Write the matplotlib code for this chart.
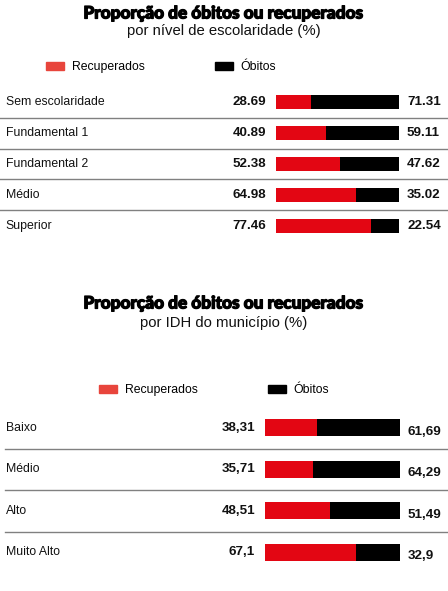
import matplotlib
matplotlib.use("Agg")
import matplotlib.pyplot as plt
import matplotlib.transforms as mtransforms
import matplotlib.patheffects as pe
from matplotlib.patches import Patch

plt.rcParams['font.family'] = ['Liberation Sans', 'DejaVu Sans']

W, H = 448, 591
RED = "#e30613"
RED_LEG = "#e8453c"

# data
esc_cats = ["Sem escolaridade", "Fundamental 1", "Fundamental 2", "Médio", "Superior"]
esc_rec = [28.69, 40.89, 52.38, 64.98, 77.46]
esc_obi = [71.31, 59.11, 47.62, 35.02, 22.54]

idh_cats = ["Baixo", "Médio", "Alto", "Muito Alto"]
idh_rec = [38.31, 35.71, 48.51, 67.1]
idh_obi = [61.69, 64.29, 51.49, 32.9]
idh_rec_lbl = ["38,31", "35,71", "48,51", "67,1"]
idh_obi_lbl = ["61,69", "64,29", "51,49", "32,9"]

fig = plt.figure(figsize=(W / 100, H / 100), dpi=100)


def px_axes(x0, y0, x1, y1):
    # rect given in pixels from the top-left
    return fig.add_axes([x0 / W, 1 - y1 / H, (x1 - x0) / W, (y1 - y0) / H])


def chart(ax, cats, rec, obi, rec_lbl, obi_lbl, bar_h, line_x0, right_dy):
    n = len(cats)
    y = list(range(n))
    ax.barh(y, rec, height=bar_h, color=RED)
    ax.barh(y, obi, left=rec, height=bar_h, color="black")
    ax.set_xlim(0, 100)
    ax.set_ylim(n - 0.5, -0.5)
    ax.axis("off")
    blend = mtransforms.blended_transform_factory(fig.transFigure, ax.transData)
    for i in y:
        ax.text(5.5 / W, i, cats[i], transform=blend, ha="left", va="center",
                fontsize=8.8, color="#111111")
        ax.annotate(rec_lbl[i], xy=(0, i), xytext=(-10, 0),
                    textcoords="offset pixels", ha="right", va="center",
                    fontsize=9.6, fontweight="bold", color="#111111")
        ax.annotate(obi_lbl[i], xy=(100, i), xytext=(8, right_dy),
                    textcoords="offset pixels", ha="left", va="center",
                    fontsize=9.6, fontweight="bold", color="#111111")
        if i < n - 1:
            ax.plot([line_x0 / W, 1], [i + 0.5, i + 0.5], transform=blend,
                    color="#808080", lw=1.0, clip_on=False)


def titles(y_title, y_sub, sub):
    fig.text(0.5, 1 - y_title / H, "Proporção de óbitos ou recuperados",
             ha="center", va="center", fontsize=12.4, fontweight="black",
             family=["Lato", "DejaVu Sans"],
             path_effects=[pe.withStroke(linewidth=0.9, foreground="black")])
    fig.text(0.5, 1 - y_sub / H, sub, ha="center", va="center",
             fontsize=10.7, color="#111111")


def legend(x_left, y_mid):
    handles = [Patch(color=RED_LEG, label="Recuperados"),
               Patch(color="black", label="Óbitos")]
    fig.legend(handles=handles, loc="center left",
               bbox_to_anchor=(x_left / W, 1 - y_mid / H), ncol=2,
               frameon=False, fontsize=8.8, handlelength=1.5,
               handleheight=0.62, handletextpad=0.6, columnspacing=5.75,
               borderaxespad=0, borderpad=0)


# top chart
titles(13.5, 31, "por nível de escolaridade (%)")
legend(46, 67)
ax1 = px_axes(276, 86.5, 399, 241.5)
chart(ax1, esc_cats, esc_rec, esc_obi,
      ["%.2f" % v for v in esc_rec], ["%.2f" % v for v in esc_obi],
      0.46, 0, 0)

# bottom chart
titles(303.5, 323, "por IDH do município (%)")
legend(99, 390)
ax2 = px_axes(265, 407, 400, 573)
chart(ax2, idh_cats, idh_rec, idh_obi, idh_rec_lbl, idh_obi_lbl,
      0.40, 5, -4)

fig.savefig("out.png", dpi=100)
